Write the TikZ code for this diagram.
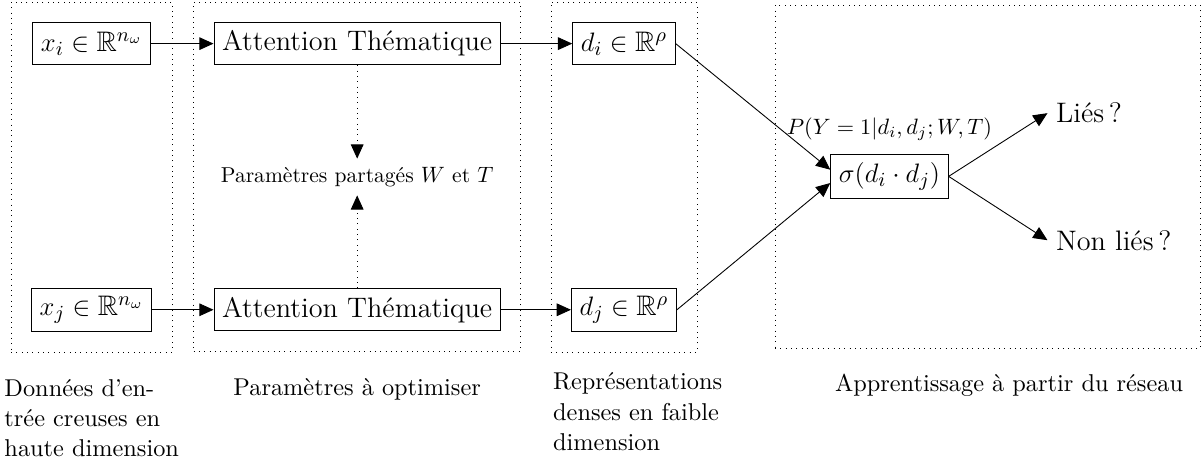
\documentclass[tikz,border=0pt,11pt]{standalone}
\usepackage{amsmath,amssymb}
\usetikzlibrary{arrows.meta,positioning,fit}

\begin{document}
\begin{tikzpicture}[box/.style={draw, font=\fontsize{12.7}{15}\selectfont, minimum height=19pt},
group/.style={draw, dotted, inner sep=9pt},
lbl/.style={inner sep=0pt, align=left},
flow/.style={-{Triangle[length=6.4pt,width=5.7pt]}}]
\useasboundingbox (0,0) rectangle (19.03,7.35);
\node[box](xi) at (1.45,6.66){$x_i \in \mathbb{R}^{n_\omega}$};
\node[box](xj) at (1.45,2.45){$x_j \in \mathbb{R}^{n_\omega}$};
\node[box](att1) at (5.65,6.66){Attention Thématique};
\node[box](att2) at (5.65,2.45){Attention Thématique};
\node[box](di) at (9.87,6.66){$d_i \in \mathbb{R}^{\rho}$};
\node[box](dj) at (9.87,2.45){$d_j \in \mathbb{R}^{\rho}$};
\node[font=\fontsize{9.7}{12}\selectfont](shared) at (5.65,4.55){Paramètres partagés $W$ et $T$};
\node[box](sigma) at (14.07,4.56){$\sigma(d_i \cdot d_j)$};
\node[font=\small, above=2pt of sigma](prob){$P(Y=1|d_i,d_j;W,T)$};
\node[font=\fontsize{12.7}{15}\selectfont, anchor=west](lies) at (16.57,5.56){Liés\,?};
\node[font=\fontsize{12.7}{15}\selectfont, anchor=west](nonlies) at (16.57,3.55){Non liés\,?};
\draw[flow] (xi) -- (att1);
\draw[flow] (xj) -- (att2);
\draw[flow] (att1) -- (di);
\draw[flow] (att2) -- (dj);
\draw[flow, dotted] (att1) -- (shared);
\draw[flow, dotted] (att2) -- (shared);
\draw[flow] (di.east) -- ([yshift=3pt]sigma.west);
\draw[flow] (dj.east) -- ([yshift=-3pt]sigma.west);
\draw[flow] (sigma.east) -- (lies.west);
\draw[flow] (sigma.east) -- (nonlies.west);
\node[group, fit=(xi)(xj)](g1){};
\node[group, fit=(att1)(att2)](g2){};
\node[group, fit=(di)(dj)](g3){};
\coordinate (g4a) at (12.26,1.84);
\coordinate (g4b) at (18.99,7.27);
\node[group, inner sep=0pt, fit=(g4a)(g4b)](g4){};
\node[lbl, below right=12pt and -3pt of g1.south west](l1){Données d’en-\\trée creuses en\\haute dimension};
\node[lbl, below=12pt of g2](l2){Paramètres à optimiser};
\node[lbl, below right=9pt and 1pt of g3.south west](l3){Représentations\\denses en faible\\dimension};
\node[lbl, below right=11pt and 27pt of g4.south west](l4){Apprentissage à partir du réseau};
\end{tikzpicture}
\end{document}
